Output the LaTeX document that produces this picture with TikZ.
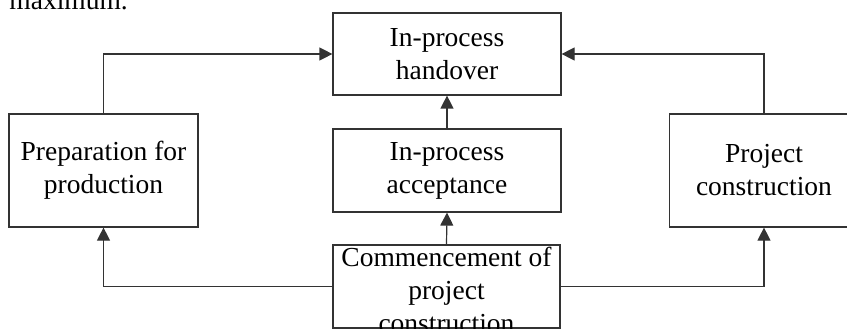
\documentclass[tikz,border=0pt]{standalone}
\usepackage{fontspec}
\setmainfont{Liberation Serif}
\usetikzlibrary{arrows.meta}
\begin{document}
\begin{tikzpicture}[x=1pt,y=-1pt,
  box/.style={draw=black!80, line width=1.2pt, inner sep=0pt, fill=white},
  txt/.style={font=\fontsize{27.5}{33}\selectfont, align=center, inner sep=0pt},
  conn/.style={draw=black!80, line width=1.2pt},
  arr/.style={conn, -{Triangle[length=13pt,width=13pt]}}]
\useasboundingbox (0,0) rectangle (847,329);
\clip (0,0) rectangle (847,329);
% fragment of page text at the top
\node[txt, anchor=base east] (frag) at (128,10) {maximum.};
% boxes
\node[box, minimum width=228pt, minimum height=82pt] (hand) at (447,54) {};
\node[box, minimum width=228pt, minimum height=83pt] (acc) at (447,170.5) {};
\node[box, minimum width=227pt, minimum height=83pt] (com) at (446.5,286.5) {};
\node[box, minimum width=189pt, minimum height=113pt] (prep) at (103.5,170.5) {};
\node[box, minimum width=189pt, minimum height=113pt] (proj) at (764,170.5) {};
% texts
\node[txt] (thand) at (hand.center) {In-process\\handover};
\node[txt] (tacc) at (acc.center) {In-process\\acceptance};
\node[txt] (tcom) at ([yshift=-3pt]com.center) {Commencement of\\project\\construction};
\node[txt] (tprep) at (prep.center) {Preparation for\\production};
\node[txt] (tproj) at (proj.center) {Project\\construction};
% connectors
\draw[arr] (prep.north) |- (hand.west);
\draw[arr] (proj.north) |- (hand.east);
\draw[arr] (com.west) -| (prep.south);
\draw[arr] (com.east) -| (proj.south);
\draw[arr] (com.north) -- (acc.south);
\draw[arr] (acc.north) -- (hand.south);
\end{tikzpicture}
\end{document}
